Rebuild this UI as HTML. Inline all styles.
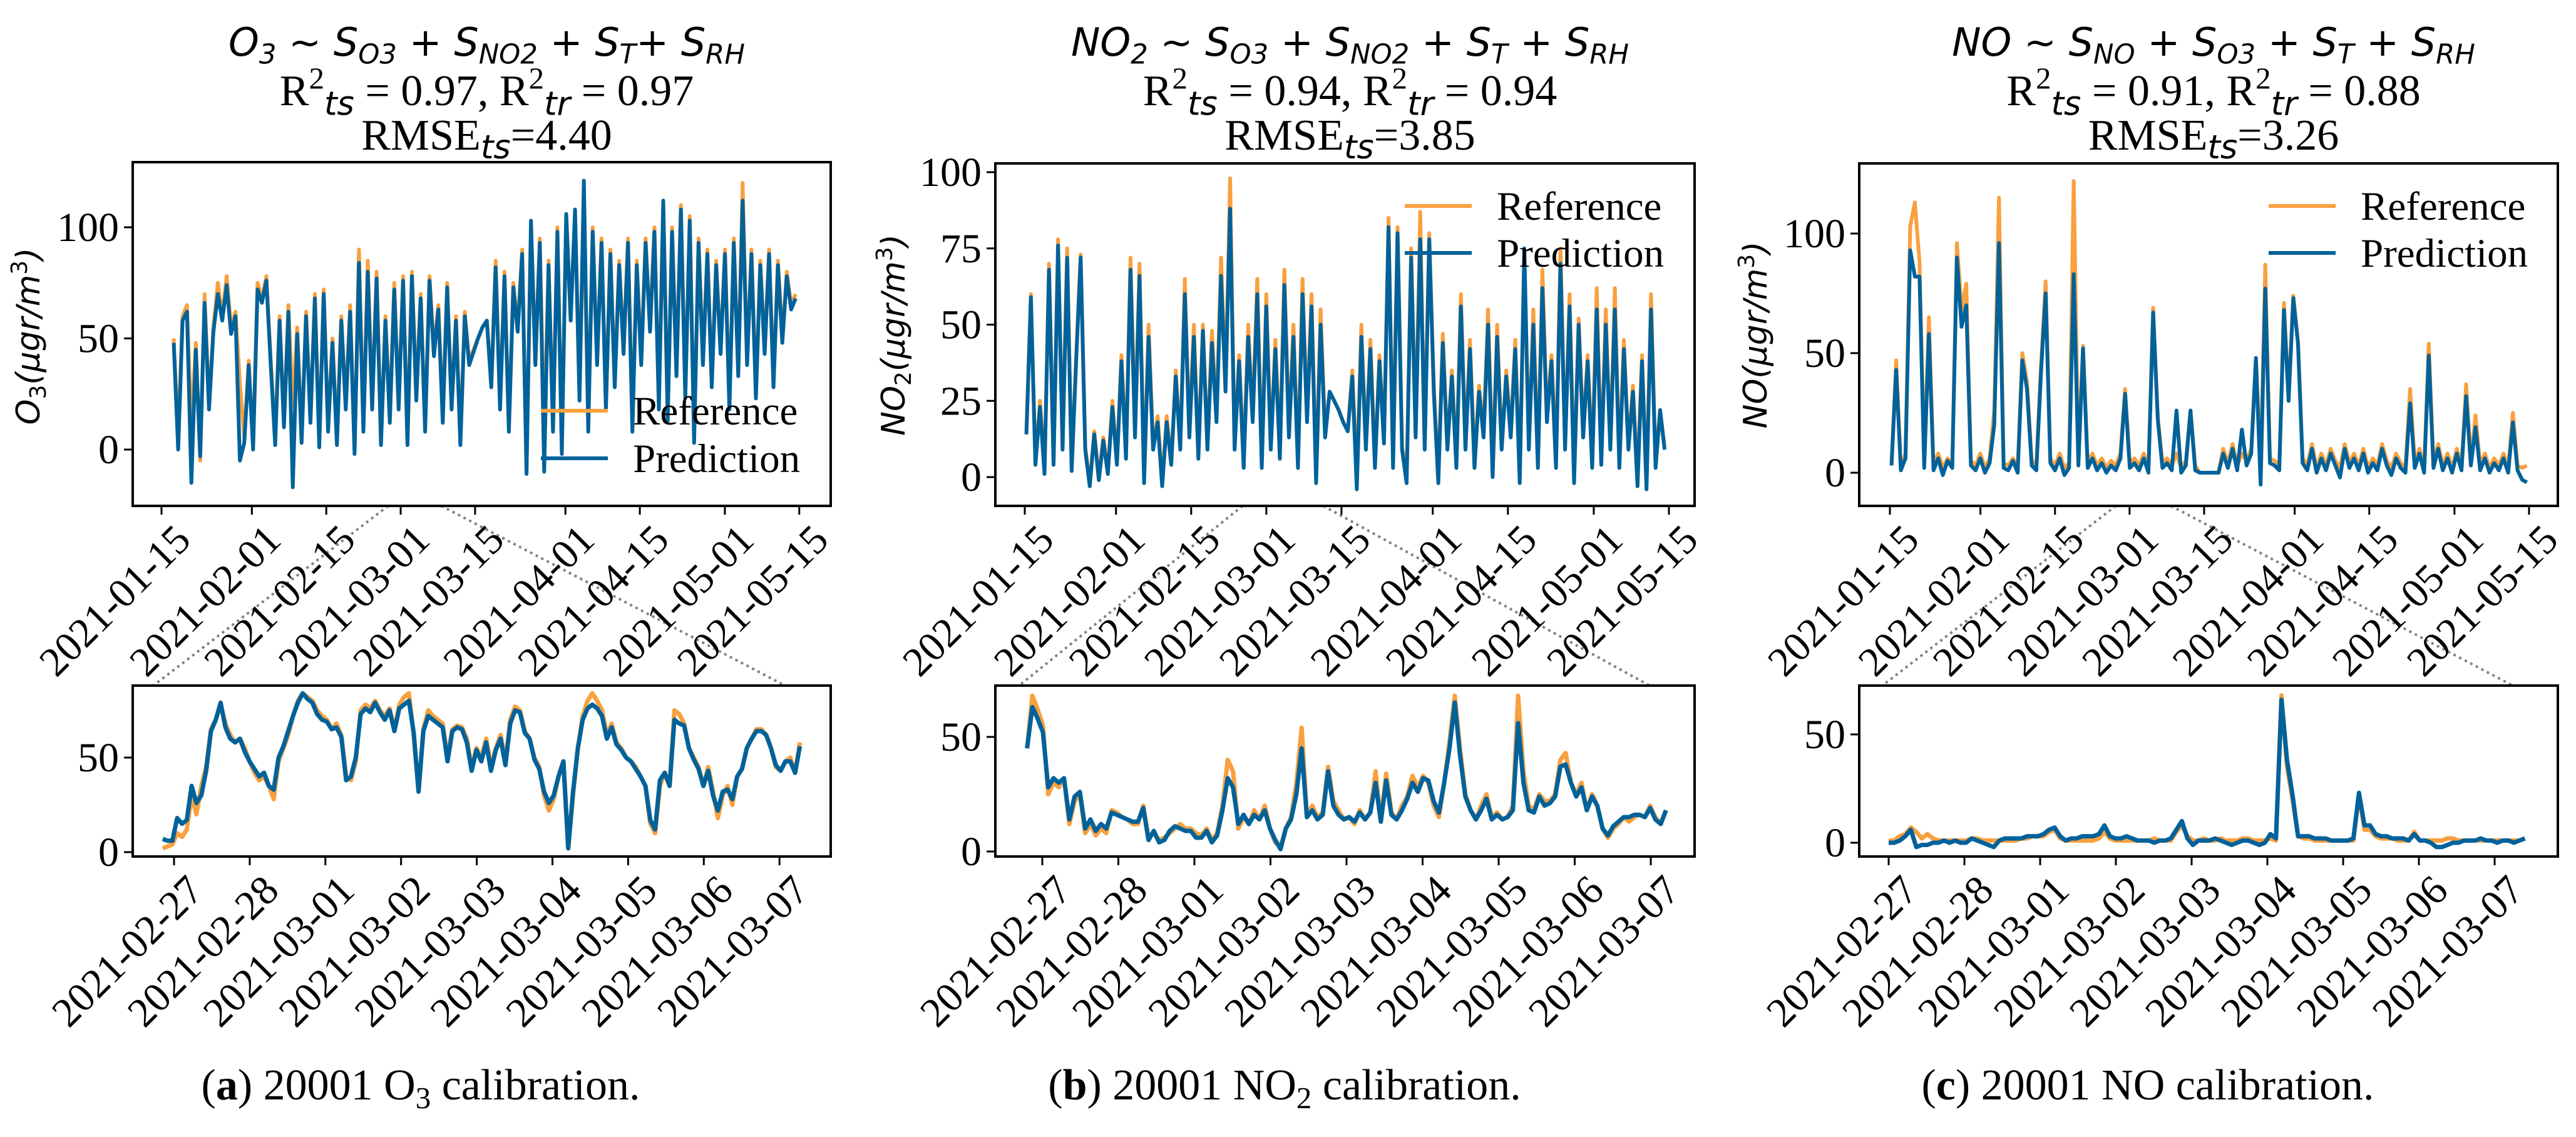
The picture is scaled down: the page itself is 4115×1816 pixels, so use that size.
<!DOCTYPE html>
<html><head><meta charset="utf-8"><title>Calibration time series</title>
<style>
html,body{margin:0;padding:0;background:#fff;}
svg{display:block;}
</style></head>
<body>
<svg id="fig" xmlns="http://www.w3.org/2000/svg" width="4115" height="1816" viewBox="0 0 4115 1816">
<rect x="0" y="0" width="4115" height="1816" fill="#fff"/>
</svg>
<script>
// ---------- DATA ----------
const mainTickLabels = ["2021-01-15","2021-02-01","2021-02-15","2021-03-01","2021-03-15","2021-04-01","2021-04-15","2021-05-01","2021-05-15"];
const mainTickDays = [0,17,31,45,59,76,90,106,120];
const insetTickLabels = ["2021-02-27","2021-02-28","2021-03-01","2021-03-02","2021-03-03","2021-03-04","2021-03-05","2021-03-06","2021-03-07"];
const insetTickDays = [0,1,2,3,4,5,6,7,8];

const o3Ref = [50,5,60,65,10,48,-5,70,20,55,75,60,78,55,62,30,5,40,2,
 75,68,78,40,5,60,12,65,20,55,5,62,15,70,3,72,10,
 50,5,60,20,65,0,90,10,85,20,80,5,60,15,75,20,78,
 5,80,25,70,10,78,45,65,15,75,20,60,5,62,
 40,45,50,55,58,
 30,85,20,80,10,75,55,90,-10,100,40,95,5,85,10,100,0,105,
 60,105,25,110,10,100,40,95,20,90,30,85,45,95,10,85,40,
 95,55,100,20,110,15,100,35,110,25,105,5,95,40,90,30,85,45,90,
 20,95,35,120,40,90,25,85,45,90,30,85,50,80,65,70];
const o3Pred = [48,0,58,62,-15,45,-3,66,18,53,70,58,74,52,60,-5,3,38,0,
 72,66,76,38,2,58,10,62,-17,52,3,60,12,68,1,70,8,
 48,2,58,18,62,-2,84,8,80,18,77,2,58,12,72,18,76,
 2,78,22,68,8,76,42,63,12,73,18,58,2,60,
 38,44,50,55,58,
 28,82,18,78,8,73,53,88,-11,103,38,93,-10,83,8,98,-2,106,
 58,108,22,121,8,98,38,93,18,88,28,83,43,93,8,83,38,
 93,53,98,18,112,13,98,33,108,23,103,3,93,38,88,28,83,43,88,
 18,93,33,112,38,88,23,83,43,88,28,83,48,78,63,68];

const no2Ref = [15,60,5,25,2,70,5,78,10,75,3,40,73,10,-2,15,0,13,2,
 25,5,40,8,72,15,70,0,50,10,20,-2,20,5,35,10,65,
 15,50,8,50,10,48,20,72,30,98,10,40,5,50,20,65,5,
 60,10,45,8,68,15,50,5,65,20,60,0,55,15,
 28,25,22,18,15,
 35,0,50,10,45,5,40,12,85,5,82,10,0,75,15,87,10,80,
 30,0,47,10,35,5,60,10,45,5,30,15,55,2,50,10,35,
 15,45,0,70,10,55,5,68,20,40,5,75,10,60,0,52,15,40,5,
 62,5,55,10,62,5,45,10,30,0,40,-2,60,5,22,10];
const no2Pred = [14,59,4,23,1,68,4,76,9,72,2,38,72,9,-3,14,-1,12,1,
 23,4,38,6,68,13,66,-2,46,9,18,-3,18,4,33,9,60,
 13,46,6,48,9,44,18,66,28,88,9,38,3,46,18,60,3,
 56,9,42,6,63,13,46,3,60,18,56,-2,50,13,
 28,25,22,18,15,
 33,-4,46,9,42,3,38,11,82,3,80,9,-2,72,13,78,9,78,
 28,-2,44,9,33,3,56,9,42,3,28,13,50,0,46,9,33,
 13,42,-2,75,9,50,3,62,18,38,3,70,9,56,-2,50,13,38,3,
 55,4,50,9,55,3,42,9,28,-3,38,-4,55,3,22,9];

const noRef = [4,47,2,8,103,113,88,5,65,3,8,2,6,3,96,68,79,5,3,8,2,6,26,115,4,3,6,2,50,38,5,3,45,80,6,3,8,2,4,122,5,53,4,8,3,6,2,5,3,8,35,4,6,3,8,2,69,23,4,6,3,8,2,5,26,3,
 0,0,0,0,0,
 10,4,12,3,8,5,10,48,2,87,6,5,3,71,32,74,55,6,3,12,2,8,3,10,5,2,12,4,8,3,10,2,6,3,12,5,2,8,4,2,35,4,10,2,54,4,12,3,8,2,10,3,37,5,24,3,8,2,6,3,8,2,25,3,2,3];
const noPred = [3,43,1,6,93,82,82,2,58,1,6,-1,5,2,90,61,70,3,1,6,0,4,20,96,2,1,5,0,47,35,3,1,42,75,4,1,6,-1,2,83,3,52,2,6,1,4,0,3,1,6,33,2,4,1,6,0,67,22,2,4,1,26,0,3,26,1,
 0,0,0,0,0,
 8,2,10,1,18,3,8,48,-5,77,4,3,1,68,30,73,54,4,1,10,0,6,1,8,3,-2,10,2,6,1,8,0,4,1,10,3,-1,6,2,0,29,2,8,0,49,2,10,1,6,0,8,1,32,3,19,1,6,0,4,1,6,0,21,1,-3,-4];

const o3InsetRef = [2,3,4,10,8,12,30,20,35,45,65,70,78,68,62,58,60,55,48,42,38,40,35,28,48,55,62,72,80,84,82,80,75,72,70,65,68,62,40,38,48,75,78,76,80,75,72,76,65,78,82,84,62,32,65,75,72,70,68,50,65,67,66,60,45,55,50,60,45,55,62,48,70,77,75,64,60,50,45,30,22,28,40,48,2,30,55,72,80,84,80,75,62,68,58,55,50,48,45,40,35,15,10,35,42,35,75,73,68,55,50,45,35,45,32,18,30,35,25,40,44,55,60,65,65,62,55,45,43,48,50,42,58];
const o3InsetPred = [7,6,6,18,15,17,35,26,30,43,64,70,79,66,60,58,60,53,48,44,40,42,35,33,50,56,64,72,79,84,81,79,73,70,69,65,66,61,38,40,50,73,76,74,79,74,70,75,64,76,78,80,63,32,64,72,70,68,66,48,64,66,65,58,43,54,48,58,43,54,60,46,68,75,74,63,60,49,44,32,26,30,40,48,2,32,55,70,76,78,76,72,60,66,57,54,50,48,44,40,35,17,12,38,42,35,70,68,67,55,49,44,35,43,30,22,32,33,28,40,44,55,60,64,64,62,55,46,43,48,48,42,56];

const no2InsetRef = [45,68,62,55,25,30,28,32,12,22,25,8,12,7,10,8,18,17,15,14,12,12,20,6,8,5,6,8,10,12,10,10,8,7,10,5,8,20,40,35,10,15,12,18,14,20,10,4,2,10,15,30,54,15,20,15,17,37,22,18,14,15,12,18,14,17,35,13,34,17,14,20,24,33,28,33,30,20,15,30,48,68,45,25,18,14,20,25,15,17,14,15,20,68,35,20,18,25,22,22,25,40,43,30,25,30,18,25,20,10,6,10,12,15,13,15,16,15,20,15,12,18];
const no2InsetPred = [45,63,58,52,28,32,30,32,14,24,26,10,14,9,12,10,17,16,15,14,13,13,19,5,9,4,5,9,11,10,9,9,6,6,9,4,7,18,32,28,12,16,12,16,14,18,10,5,1,10,14,25,45,15,18,14,16,35,20,16,14,15,13,17,14,17,30,13,31,16,14,18,23,30,26,32,31,22,17,30,45,65,42,24,18,14,18,23,14,16,14,15,18,56,30,18,17,24,20,21,24,37,38,30,24,28,18,24,20,10,7,11,13,15,15,16,16,15,19,14,12,18];

const noInsetRef = [1,1,3,4,7,5,2,4,2,1,1,1,1,1,1,2,2,1,1,1,1,1,1,1,2,2,3,3,3,5,6,2,1,1,1,1,1,1,2,5,2,1,1,1,1,1,1,1,2,1,1,1,5,8,3,1,1,2,1,1,2,1,1,1,2,2,1,1,1,2,1,68,35,20,3,2,2,1,1,1,1,1,1,1,1,22,6,6,3,2,2,2,1,1,1,5,1,1,1,1,1,2,2,1,1,1,1,1,1,1,1,1,1,1,1,2];
const noInsetPred = [0,0,1,3,6,-2,-1,-1,0,0,1,0,1,0,0,2,1,0,-1,-2,1,2,2,2,2,3,3,3,4,6,7,3,1,2,2,3,3,3,4,8,3,2,2,3,2,1,1,1,0,1,1,2,6,10,2,-1,1,1,1,2,1,0,-1,0,1,1,0,-1,0,4,2,66,38,22,3,3,3,2,2,2,1,1,1,1,2,23,8,8,4,3,3,2,2,2,1,4,1,1,0,-2,-2,-1,0,0,1,1,1,2,1,1,0,1,1,0,1,2];

// ---------- RENDERING ----------
const NS = "http://www.w3.org/2000/svg";
const svg = document.getElementById("fig");
const ORANGE = "#f9a03f", BLUE = "#00629b";
const SERIF = "'Liberation Serif', serif";
const MATH = "'DejaVu Sans', 'Liberation Sans', sans-serif";
const TICK = 66;

function mk(tag, attrs, parent) {
  const e = document.createElementNS(NS, tag);
  for (const k in attrs) e.setAttribute(k, attrs[k]);
  (parent || svg).appendChild(e);
  return e;
}
function linScale(d0, d1, r0, r1) { return v => r0 + (v - d0) * (r1 - r0) / (d1 - d0); }

function drawSeries(g, vals, x0, x1, sx, sy, color, width, name) {
  const n = vals.length;
  let d = "";
  vals.forEach((v, i) => {
    const t = x0 + (x1 - x0) * i / (n - 1);
    d += (i ? "L" : "M") + sx(t).toFixed(1) + "," + sy(v).toFixed(1);
  });
  const p = mk("path", {d: d, fill: "none", stroke: color, "stroke-width": width, "stroke-linejoin": "round"}, g);
  
  
  return p;
}

function axes(cfg) {
  const g = mk("g", {});
  
  
  const sx = linScale(0, 1, cfg.xPx0, cfg.xPx0 + cfg.pxPerDay);
  const sy = linScale(0, 1, cfg.y0px, cfg.y0px - cfg.pxPerUnit);
  const clipId = "clip-" + cfg.name;
  const cp = mk("clipPath", {id: clipId}, g);
  mk("rect", {x: cfg.L, y: cfg.T, width: cfg.R - cfg.L, height: cfg.B - cfg.T}, cp);
  const dg = mk("g", {"clip-path": "url(#" + clipId + ")"}, g);
  drawSeries(dg, cfg.ref, cfg.d0, cfg.d1, sx, sy, ORANGE, cfg.lw, "reference-line");
  drawSeries(dg, cfg.pred, cfg.d0, cfg.d1, sx, sy, BLUE, cfg.lw, "prediction-line");
  const frame = mk("rect", {x: cfg.L, y: cfg.T, width: cfg.R - cfg.L, height: cfg.B - cfg.T, fill: "none", stroke: "#000", "stroke-width": 4}, g);
  
  
  cfg.yTicks.forEach(v => {
    const y = sy(v);
    mk("line", {x1: cfg.L - 14, x2: cfg.L, y1: y, y2: y, stroke: "#000", "stroke-width": 3}, g);
    const t = mk("text", {x: cfg.L - 22, y: y + 22, "text-anchor": "end", "font-family": SERIF, "font-size": TICK}, g);
    t.textContent = String(v);
    
    
  });
  cfg.xTickDays.forEach((dd, i) => {
    const x = sx(dd);
    mk("line", {x1: x, x2: x, y1: cfg.B, y2: cfg.B + 14, stroke: "#000", "stroke-width": 3}, g);
    const t = mk("text", {transform: "translate(" + (x + 18) + "," + (cfg.B + 26) + ") rotate(-45)", "text-anchor": "end", dy: "0.68em", "font-family": SERIF, "font-size": TICK}, g);
    t.textContent = cfg.xTickLabels[i];
    
    
  });
  return g;
}

function richText(x, y, size, parts, name, anchor) {
  const t = mk("text", {x: x, y: y, "text-anchor": anchor || "middle", "font-size": size});
  
  
  parts.forEach(p => {
    const s = mk("tspan", {"font-family": p.m ? MATH : SERIF}, t);
    if (p.m) s.setAttribute("font-style", "italic");
    if (p.sz) s.setAttribute("font-size", size * p.sz);
    if (p.dy !== undefined) s.setAttribute("dy", size * p.dy);
    if (p.bold) s.setAttribute("font-weight", "bold");
    if (p.f) s.setAttribute("font-family", p.f);
    s.textContent = p.t;
  });
  return t;
}
const SUB = 0.2, SUP = -0.38;

const panels = [
  {key: "o3", L: 212, R: 1327, T: 259, B: 808, x15: 258, ppd: 8.49, y0: 718, ppu: 3.55, yt: [0,50,100],
   ref: o3Ref, pred: o3Pred, d0: 2.3, d1: 119.3,
   iL: 212, iR: 1327, ix0: 278, ippd: 120.9, iy0: 1361, ippu: 3.02, iref: o3InsetRef, ipred: o3InsetPred, id0: -0.15, id1: 8.27,
   legX: 864, legY1: 656, legY2: 732,
   conn: [[620,808,245,1095],[705,808,1254,1095]],
   ylab: [45, 537], ylabT: "O", ylabS: "3",
   title1: [["O",0],["3",1],[" ~ S",0],["O3",1],[" + S",0],["NO2",1],[" + S",0],["T",1],["+ S",0],["RH",1]],
   r2: ["0.97","0.97"], rmse: "4.40", cap: [672, "a", "O", "3", " calibration."]},
  {key: "no2", L: 1590, R: 2707, T: 261, B: 808, x15: 1637, ppd: 8.575, y0: 762, ppu: 4.87, yt: [0,25,50,75,100],
   ref: no2Ref, pred: no2Pred, d0: 0.3, d1: 119.2,
   iL: 1590, iR: 2707, ix0: 1665, ippd: 121.5, iy0: 1360, ippu: 3.66, iref: no2InsetRef, ipred: no2InsetPred, id0: -0.2, id1: 8.2,
   legX: 2244, legY1: 329, legY2: 404,
   conn: [[1985,808,1628,1095],[2114,808,2635,1095]],
   ylab: [1427, 535], ylabT: "NO", ylabS: "2",
   title1: [["NO",0],["2",1],[" ~ S",0],["O3",1],[" + S",0],["NO2",1],[" + S",0],["T",1],[" + S",0],["RH",1]],
   r2: ["0.94","0.94"], rmse: "3.85", cap: [2052, "b", "NO", "2", " calibration."]},
  {key: "no", L: 2970, R: 4086, T: 261, B: 808, x15: 3019, ppd: 8.508, y0: 755, ppu: 3.82, yt: [0,50,100],
   ref: noRef, pred: noPred, d0: 0.3, d1: 119.6,
   iL: 2970, iR: 4086, ix0: 3017, ippd: 121, iy0: 1346, ippu: 3.46, iref: noInsetRef, ipred: noInsetPred, id0: 0, id1: 8.4,
   legX: 3624, legY1: 329, legY2: 404,
   conn: [[3380,808,3007,1095],[3468,808,4014,1095]],
   ylab: [2804, 535], ylabT: "NO", ylabS: "",
   title1: [["NO ~ S",0],["NO",1],[" + S",0],["O3",1],[" + S",0],["T",1],[" + S",0],["RH",1]],
   r2: ["0.91","0.88"], rmse: "3.26", cap: [3431, "c", "NO", "", " calibration."]}
];

function mathLine(spec) {
  const out = [];
  let inSub = false;
  spec.forEach(s => {
    if (s[1]) { out.push({t: s[0], m: 1, sz: 0.7, dy: inSub ? 0 : SUB}); inSub = true; }
    else { out.push({t: s[0], m: 1, dy: inSub ? -SUB : 0}); inSub = false; }
  });
  return out;
}

panels.forEach(p => {
  const cx = (p.L + p.R) / 2 + 8;
  p.conn.forEach(c => {
    const l = mk("line", {x1: c[0], y1: c[1], x2: c[2], y2: c[3], stroke: "#808080", "stroke-width": 4, "stroke-dasharray": "4,6"});
    
    
  });
  axes({name: p.key + "-main-axes", L: p.L, R: p.R, T: p.T, B: p.B, xPx0: p.x15, pxPerDay: p.ppd, y0px: p.y0, pxPerUnit: p.ppu,
        yTicks: p.yt, xTickDays: mainTickDays, xTickLabels: mainTickLabels, ref: p.ref, pred: p.pred, d0: p.d0, d1: p.d1, lw: 6});
  axes({name: p.key + "-inset-axes", L: p.iL, R: p.iR, T: 1095, B: 1368, xPx0: p.ix0, pxPerDay: p.ippd, y0px: p.iy0, pxPerUnit: p.ippu,
        yTicks: [0,50], xTickDays: insetTickDays, xTickLabels: insetTickLabels, ref: p.iref, pred: p.ipred, d0: p.id0, d1: p.id1, lw: 7});
  richText(cx, 89, 62, mathLine(p.title1), p.key + "-title-formula");
  richText(cx, 168, 70, [{t:"R"},{t:"2",sz:0.7,dy:SUP},{t:"ts",m:1,sz:0.75,dy:0.6},{t:" = " + p.r2[0] + ",  R",dy:-0.22},{t:"2",sz:0.7,dy:SUP},{t:"tr",m:1,sz:0.75,dy:0.6},{t:" = " + p.r2[1],dy:-0.22}], p.key + "-title-r2");
  richText(cx, 239, 70, [{t:"RMSE"},{t:"ts",m:1,sz:0.75,dy:SUB},{t:"=" + p.rmse,dy:-SUB}], p.key + "-title-rmse");
  const lg = mk("g", {});
  
  
  [[p.legY1, ORANGE, "Reference"], [p.legY2, BLUE, "Prediction"]].forEach(e => {
    mk("line", {x1: p.legX, x2: p.legX + 107, y1: e[0], y2: e[0], stroke: e[1], "stroke-width": 6}, lg);
    const t = mk("text", {x: p.legX + 147, y: e[0] + 22, "font-family": SERIF, "font-size": 65}, lg);
    t.textContent = e[2];
    
    
  });
  const yl = mk("text", {transform: "translate(" + (p.ylab[0] + 18) + "," + p.ylab[1] + ") rotate(-90)", "text-anchor": "middle", "font-family": MATH, "font-style": "italic", "font-size": 52});
  
  
  const s1 = mk("tspan", {}, yl); s1.textContent = p.ylabT;
  if (p.ylabS) { const s2 = mk("tspan", {"font-size": 36, dy: 10, "font-style": "normal"}, yl); s2.textContent = p.ylabS; }
  const s3 = mk("tspan", {dy: p.ylabS ? -10 : 0}, yl); s3.textContent = "(μgr/m";
  const s4 = mk("tspan", {"font-size": 36, dy: -20, "font-style": "normal"}, yl); s4.textContent = "3";
  const s5 = mk("tspan", {dy: 20}, yl); s5.textContent = ")";
  const capParts = [{t:"("},{t:p.cap[1],bold:1},{t:")  20001 " + p.cap[2]}];
  if (p.cap[3]) { capParts.push({t:p.cap[3], sz:0.7, dy:0.2}); capParts.push({t:p.cap[4], dy:-0.2}); }
  else capParts.push({t:p.cap[4]});
  richText(p.cap[0], 1756, 70, capParts, p.key + "-caption");
});
</script>
</body></html>
